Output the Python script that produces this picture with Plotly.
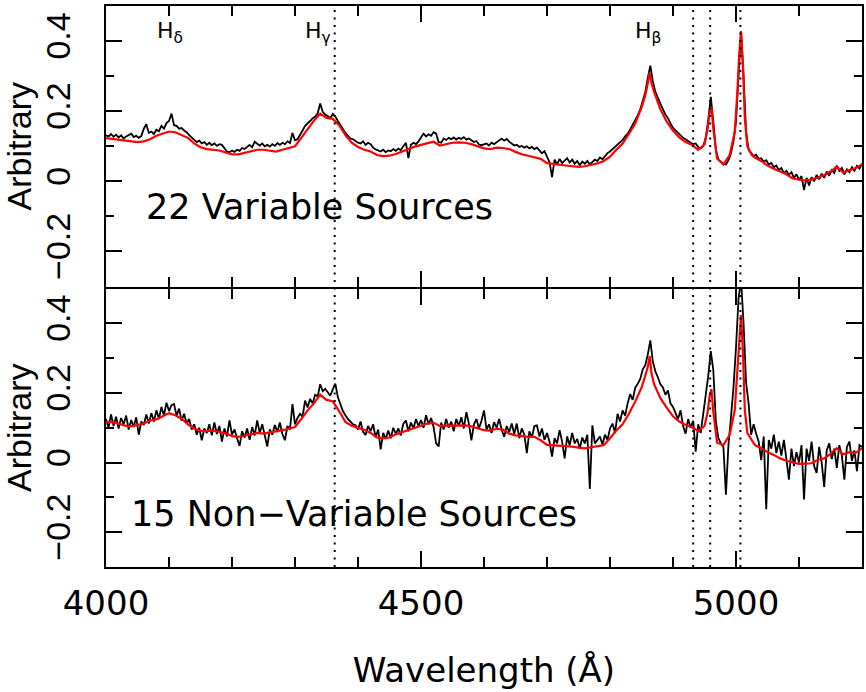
import plotly.graph_objects as go
from plotly.subplots import make_subplots

# wavelength grid of the noisy composite spectra (4 A steps)
WAVE_BLACK = list(range(4000, 5201, 4))

TOP_BLACK = [
    0.131, 0.128, 0.135, 0.127, 0.133, 0.125, 0.131, 0.122, 0.128, 0.133, 0.136, 0.126, 0.130, 0.124, 0.129, 0.150, 0.163, 0.138, 0.142, 0.135, 0.147, 0.143, 0.158, 0.150, 0.166,
    0.172, 0.193, 0.160, 0.158, 0.150, 0.152, 0.145, 0.140, 0.132, 0.124, 0.118, 0.112, 0.116, 0.108, 0.112, 0.104, 0.110, 0.103, 0.108, 0.101, 0.106, 0.104, 0.096, 0.085, 0.083,
    0.088, 0.084, 0.090, 0.087, 0.095, 0.092, 0.098, 0.104, 0.097, 0.113, 0.107, 0.102, 0.108, 0.100, 0.104, 0.099, 0.106, 0.101, 0.109, 0.104, 0.110, 0.106, 0.114, 0.109, 0.138,
    0.117, 0.120, 0.131, 0.145, 0.158, 0.164, 0.172, 0.180, 0.184, 0.194, 0.222, 0.198, 0.190, 0.186, 0.180, 0.192, 0.185, 0.172, 0.160, 0.147, 0.138, 0.130, 0.122, 0.120, 0.114,
    0.110, 0.108, 0.114, 0.104, 0.110, 0.106, 0.096, 0.091, 0.087, 0.085, 0.090, 0.083, 0.088, 0.086, 0.092, 0.087, 0.093, 0.089, 0.100, 0.110, 0.066, 0.104, 0.110, 0.106, 0.114,
    0.124, 0.136, 0.128, 0.134, 0.130, 0.140, 0.136, 0.112, 0.110, 0.122, 0.118, 0.124, 0.120, 0.125, 0.119, 0.124, 0.121, 0.126, 0.119, 0.122, 0.117, 0.112, 0.115, 0.105, 0.103,
    0.105, 0.108, 0.102, 0.110, 0.106, 0.112, 0.118, 0.122, 0.116, 0.121, 0.113, 0.108, 0.102, 0.104, 0.098, 0.101, 0.096, 0.100, 0.094, 0.098, 0.092, 0.096, 0.088, 0.080, 0.086,
    0.070, 0.055, 0.012, 0.062, 0.048, 0.064, 0.052, 0.060, 0.066, 0.054, 0.062, 0.050, 0.058, 0.046, 0.056, 0.050, 0.058, 0.048, 0.055, 0.062, 0.058, 0.068, 0.063, 0.072, 0.080,
    0.085, 0.092, 0.098, 0.104, 0.112, 0.118, 0.128, 0.136, 0.148, 0.160, 0.172, 0.188, 0.205, 0.228, 0.255, 0.295, 0.330, 0.285, 0.255, 0.238, 0.220, 0.205, 0.190, 0.180, 0.165,
    0.152, 0.145, 0.138, 0.130, 0.124, 0.120, 0.114, 0.110, 0.106, 0.108, 0.098, 0.094, 0.100, 0.125, 0.175, 0.241, 0.170, 0.090, 0.062, 0.055, 0.050, 0.048, 0.060, 0.080, 0.115,
    0.170, 0.320, 0.428, 0.300, 0.140, 0.090, 0.080, 0.072, 0.076, 0.064, 0.066, 0.056, 0.060, 0.048, 0.052, 0.040, 0.045, 0.032, 0.038, 0.024, 0.030, 0.018, 0.026, 0.010, 0.020,
    0.004, 0.015, -0.025, 0.010, -0.012, 0.012, 0.000, 0.018, 0.006, 0.022, 0.010, 0.028, 0.016, 0.032, 0.024, 0.045, 0.030, 0.038, 0.020, 0.034, 0.026, 0.040, 0.030, 0.044, 0.036,
    0.050,
]

BOTTOM_BLACK = [
    0.125, 0.100, 0.138, 0.105, 0.132, 0.098, 0.128, 0.110, 0.135, 0.095, 0.122, 0.102, 0.130, 0.080, 0.118, 0.108, 0.138, 0.112, 0.142, 0.118, 0.150, 0.125, 0.160, 0.135, 0.172,
    0.148, 0.165, 0.168, 0.135, 0.155, 0.120, 0.140, 0.112, 0.125, 0.095, 0.110, 0.080, 0.100, 0.064, 0.098, 0.085, 0.110, 0.078, 0.115, 0.082, 0.105, 0.060, 0.098, 0.075, 0.121,
    0.080, 0.095, 0.070, 0.048, 0.090, 0.072, 0.098, 0.065, 0.102, 0.078, 0.121, 0.085, 0.110, 0.075, 0.046, 0.095, 0.080, 0.108, 0.088, 0.115, 0.082, 0.064, 0.105, 0.095, 0.168,
    0.110, 0.128, 0.140, 0.132, 0.178, 0.158, 0.183, 0.170, 0.195, 0.190, 0.225, 0.205, 0.212, 0.200, 0.192, 0.210, 0.227, 0.188, 0.170, 0.148, 0.136, 0.125, 0.118, 0.110, 0.107,
    0.095, 0.118, 0.088, 0.079, 0.105, 0.090, 0.110, 0.072, 0.095, 0.038, 0.085, 0.068, 0.092, 0.070, 0.100, 0.082, 0.098, 0.078, 0.112, 0.121, 0.090, 0.115, 0.098, 0.125, 0.105,
    0.122, 0.100, 0.136, 0.110, 0.128, 0.102, 0.055, 0.046, 0.115, 0.095, 0.125, 0.100, 0.118, 0.090, 0.125, 0.105, 0.130, 0.098, 0.145, 0.112, 0.064, 0.110, 0.125, 0.098, 0.120,
    0.150, 0.095, 0.110, 0.085, 0.116, 0.100, 0.125, 0.095, 0.074, 0.105, 0.088, 0.112, 0.082, 0.112, 0.070, 0.098, 0.080, 0.027, 0.090, 0.072, 0.105, 0.107, 0.075, 0.098, 0.065,
    0.085, 0.060, 0.017, 0.070, 0.055, 0.093, 0.060, 0.012, 0.075, 0.050, 0.085, 0.055, 0.068, 0.040, 0.072, 0.055, 0.080, -0.076, 0.107, 0.055, 0.065, 0.075, 0.052, 0.080, 0.065,
    0.098, 0.112, 0.085, 0.140, 0.118, 0.150, 0.135, 0.170, 0.197, 0.180, 0.215, 0.226, 0.240, 0.268, 0.280, 0.310, 0.351, 0.290, 0.262, 0.245, 0.225, 0.216, 0.195, 0.207, 0.170,
    0.160, 0.140, 0.125, 0.150, 0.105, 0.083, 0.125, 0.100, 0.120, 0.031, 0.110, 0.085, 0.140, 0.190, 0.250, 0.320, 0.265, 0.120, 0.070, 0.055, 0.045, -0.092, 0.050, 0.130, 0.216,
    0.330, 0.470, 0.525, 0.400, 0.230, 0.170, 0.080, 0.110, 0.083, 0.060, 0.007, 0.075, -0.134, 0.065, 0.040, 0.080, 0.027, 0.060, 0.020, 0.065, 0.010, -0.049, 0.040, -0.010, 0.030,
    0.000, 0.050, -0.106, 0.040, 0.005, 0.060, -0.010, -0.030, 0.045, 0.000, -0.070, 0.035, 0.055, 0.010, 0.040, -0.015, 0.050, 0.020, -0.049, 0.045, 0.060, 0.005, 0.035, -0.025, 0.050,
    0.045,
]

# wavelength points of the smoothed (red) spectra, denser around the emission lines
WAVE_RED = [
    4000, 4010, 4020, 4030, 4040, 4050, 4060, 4070, 4080, 4090,
    4100, 4110, 4120, 4130, 4140, 4150, 4160, 4170, 4180, 4190,
    4200, 4210, 4220, 4230, 4240, 4250, 4260, 4270, 4280, 4290,
    4300, 4310, 4320, 4330, 4340, 4350, 4360, 4370, 4380, 4390,
    4400, 4410, 4420, 4430, 4440, 4450, 4460, 4470, 4480, 4490,
    4500, 4510, 4520, 4530, 4540, 4550, 4560, 4570, 4580, 4590,
    4600, 4610, 4620, 4630, 4640, 4650, 4660, 4670, 4680, 4690,
    4700, 4710, 4720, 4730, 4740, 4750, 4760, 4770, 4780, 4790,
    4800, 4810, 4820, 4830, 4840, 4850, 4856, 4860, 4863, 4866,
    4870, 4880, 4890, 4900, 4910, 4920, 4930, 4940, 4950, 4955,
    4958, 4961, 4964, 4970, 4980, 4990, 4998, 5002, 5005, 5008,
    5011, 5014, 5018, 5025, 5030, 5040, 5050, 5060, 5070, 5080,
    5090, 5100, 5110, 5120, 5130, 5140, 5150, 5160, 5170, 5180,
    5190, 5200,
]

TOP_RED = [
    0.123, 0.121, 0.118, 0.115, 0.113, 0.112, 0.114, 0.120, 0.130, 0.137,
    0.142, 0.140, 0.133, 0.124, 0.108, 0.097, 0.092, 0.091, 0.088, 0.082,
    0.077, 0.077, 0.081, 0.086, 0.090, 0.090, 0.088, 0.085, 0.090, 0.094,
    0.100, 0.124, 0.150, 0.173, 0.193, 0.181, 0.178, 0.160, 0.132, 0.110,
    0.098, 0.090, 0.085, 0.075, 0.072, 0.073, 0.078, 0.085, 0.094, 0.099,
    0.104, 0.108, 0.113, 0.102, 0.107, 0.110, 0.111, 0.110, 0.106, 0.100,
    0.094, 0.092, 0.096, 0.095, 0.092, 0.084, 0.077, 0.073, 0.069, 0.064,
    0.052, 0.049, 0.047, 0.045, 0.043, 0.041, 0.043, 0.046, 0.051, 0.058,
    0.070, 0.090, 0.108, 0.135, 0.165, 0.210, 0.245, 0.280, 0.310, 0.280,
    0.255, 0.205, 0.170, 0.145, 0.125, 0.112, 0.104, 0.090, 0.105, 0.150,
    0.195, 0.212, 0.150, 0.065, 0.048, 0.075, 0.140, 0.250, 0.360, 0.426,
    0.330, 0.180, 0.100, 0.075, 0.068, 0.058, 0.045, 0.036, 0.028, 0.020,
    0.008, 0.005, 0.002, 0.006, 0.010, 0.018, 0.028, 0.042, 0.025, 0.032,
    0.038, 0.048,
]

BOTTOM_RED = [
    0.117, 0.116, 0.112, 0.106, 0.104, 0.107, 0.112, 0.121, 0.124, 0.133,
    0.142, 0.136, 0.126, 0.110, 0.098, 0.091, 0.090, 0.092, 0.089, 0.084,
    0.076, 0.074, 0.077, 0.082, 0.085, 0.083, 0.086, 0.088, 0.093, 0.097,
    0.102, 0.125, 0.150, 0.170, 0.195, 0.180, 0.176, 0.148, 0.117, 0.106,
    0.100, 0.094, 0.085, 0.072, 0.070, 0.072, 0.081, 0.087, 0.093, 0.100,
    0.107, 0.112, 0.114, 0.105, 0.106, 0.107, 0.108, 0.107, 0.104, 0.098,
    0.093, 0.092, 0.097, 0.095, 0.083, 0.078, 0.075, 0.074, 0.074, 0.064,
    0.051, 0.050, 0.049, 0.047, 0.046, 0.043, 0.041, 0.044, 0.047, 0.050,
    0.070, 0.092, 0.110, 0.140, 0.175, 0.215, 0.250, 0.275, 0.306, 0.255,
    0.225, 0.185, 0.158, 0.133, 0.118, 0.108, 0.102, 0.090, 0.105, 0.145,
    0.190, 0.211, 0.145, 0.057, 0.050, 0.080, 0.150, 0.260, 0.360, 0.424,
    0.320, 0.150, 0.085, 0.065, 0.050, 0.042, 0.030, 0.022, 0.012, 0.005,
    0.000, -0.004, -0.003, -0.002, 0.008, 0.012, 0.025, 0.041, 0.024, 0.030,
    0.028, 0.041,
]

# emission line markers (dotted) and labels
LINE_WAVES = [4363, 4932, 4959, 5007]
LABEL_TEXT = ["H<sub>δ</sub>", "H<sub>γ</sub>", "H<sub>β</sub>"]
LABEL_WAVES = [4101, 4337, 4861]

PANEL_TEXT = ["22 Variable Sources", "15 Non\u2212Variable Sources"]

# wide sans for horizontal text, narrower one for the rotated y labels
WIDE = "DejaVu Sans, Verdana, sans-serif"
NARROW = "Liberation Sans, Arial, Helvetica, sans-serif"

fig = make_subplots(rows=2, cols=1, shared_xaxes=True, vertical_spacing=0)

panels = [(TOP_BLACK, TOP_RED), (BOTTOM_BLACK, BOTTOM_RED)]
for i, (black, red) in enumerate(panels):
    fig.add_trace(go.Scatter(x=WAVE_BLACK, y=black, mode="lines",
                             line=dict(color="black", width=1.8), showlegend=False),
                  row=i + 1, col=1)
    fig.add_trace(go.Scatter(x=WAVE_RED, y=red, mode="lines",
                             line=dict(color="#ff0000", width=2.2), showlegend=False),
                  row=i + 1, col=1)

for w in LINE_WAVES:
    fig.add_shape(type="line", xref="x", yref="paper", x0=w, x1=w, y0=0, y1=1,
                  line=dict(color="black", width=2, dash="2px,5.5px"))

for txt, w in zip(LABEL_TEXT, LABEL_WAVES):
    fig.add_annotation(x=w, y=0.425, xref="x", yref="y", text=txt, showarrow=False,
                       font=dict(family=WIDE, size=22, color="black"))

fig.add_annotation(x=4060, y=-0.072, xref="x", yref="y", text=PANEL_TEXT[0],
                   showarrow=False, xanchor="left",
                   font=dict(family=WIDE, size=35, color="black"))
fig.add_annotation(x=4037, y=-0.149, xref="x2", yref="y2", text=PANEL_TEXT[1],
                   showarrow=False, xanchor="left",
                   font=dict(family=WIDE, size=35, color="black"))

axis_common = dict(showline=True, linecolor="black", linewidth=2, mirror="allticks",
                   ticks="inside", tickcolor="black", tickwidth=2, showgrid=False,
                   zeroline=False, automargin=False)

fig.update_xaxes(range=[4000, 5200], tick0=4000, dtick=500, ticklen=16,
                 minor=dict(dtick=100, ticklen=10, ticks="inside", tickcolor="black",
                            tickwidth=2, showgrid=False),
                 tickfont=dict(family=WIDE, size=34, color="black"),
                 ticklabelstandoff=5,
                 **axis_common)
fig.update_xaxes(showticklabels=False, row=1, col=1)
fig.update_xaxes(title=dict(text="Wavelength (Å)", standoff=36,
                            font=dict(family=WIDE, size=34, color="black")),
                 row=2, col=1)

fig.update_yaxes(range=[-0.3, 0.5], tick0=0, dtick=0.2, ticklen=16, tickangle=-90,
                 minor=dict(dtick=0.1, ticklen=8, ticks="inside", tickcolor="black",
                            tickwidth=2, showgrid=False),
                 tickfont=dict(family=NARROW, size=34, color="black"),
                 ticklabelstandoff=20,
                 title=dict(text="Arbitrary", standoff=4,
                            font=dict(family=NARROW, size=34, color="black")),
                 **axis_common)

# top panel sits on the upper half; the lower panel stops 2 px short so that
# the two frame lines overlap into a single divider
fig.update_yaxes(domain=[0.5, 1.0], row=1, col=1)
fig.update_yaxes(domain=[0.0, 0.5 - 2 / 561], row=2, col=1)

fig.update_layout(width=866, height=692, plot_bgcolor="white", paper_bgcolor="white",
                  margin=dict(l=106, r=4, t=6, b=125), showlegend=False)

# the page's default body margin would push the figure 8 px off its place
fig.write_html("out.html", config={"displayModeBar": False},
               post_script="document.body.style.margin='0px';")
